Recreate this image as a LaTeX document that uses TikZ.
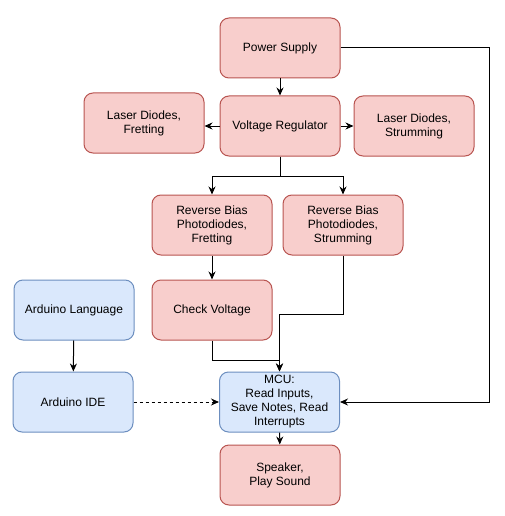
\documentclass[tikz,border=0pt]{standalone}
\usepackage{fontspec}
\setmainfont{Liberation Sans}
\usetikzlibrary{arrows.meta}
\definecolor{redfill}{HTML}{F8CECC}
\definecolor{redline}{HTML}{B85450}
\definecolor{bluefill}{HTML}{DAE8FC}
\definecolor{blueline}{HTML}{6C8EBF}
\tikzset{
  box/.style={rectangle, rounded corners=9pt, minimum width=120pt, minimum height=60pt,
    inner sep=0pt, align=center, font=\fontsize{12}{14}\selectfont, line width=1pt},
  redbox/.style={box, draw=redline, fill=redfill},
  bluebox/.style={box, draw=blueline, fill=bluefill},
  conn/.style={line width=1pt, -{Stealth[length=8pt,width=7pt]}},
}
\begin{document}
\begin{tikzpicture}[x=1pt,y=1pt]
\useasboundingbox (0,0) rectangle (505,-516);
\node[redbox] (ps) at (280,-48) {Power Supply};
\node[redbox] (lf) at (144,-123) {Laser Diodes,\\Fretting};
\node[redbox] (vr) at (280,-126) {Voltage Regulator};
\node[redbox] (ls) at (414,-126) {Laser Diodes,\\Strumming};
\node[redbox] (rbf) at (212,-225) {Reverse Bias\\Photodiodes,\\Fretting};
\node[redbox] (rbs) at (343,-225) {Reverse Bias\\Photodiodes,\\Strumming};
\node[bluebox] (al) at (74,-310) {Arduino Language};
\node[redbox] (cv) at (212,-310) {Check Voltage};
\node[bluebox] (ide) at (73,-402) {Arduino IDE};
\node[bluebox] (mcu) at (279.5,-402) {MCU:\\Read Inputs,\\Save Notes, Read\\Interrupts};
\node[redbox] (sp) at (280,-475) {Speaker,\\Play Sound};
\coordinate (pr) at (489,-48);

\draw[conn] (ps) -- (vr);
\draw[conn] (vr.west) -- (vr.west -| lf.east);
\draw[conn] (vr.east) -- (vr.east -| ls.west);
\draw[conn] (vr.south) -- ++(0,-20) -| (rbf.north);
\draw[conn] (vr.south) -- ++(0,-20) -| (rbs.north);
\draw[conn] (rbf) -- (cv);
\draw[conn] (cv.south) -- ++(0,-20) -| (mcu.north);
\draw[conn] (rbs.south) -- ++(0,-59) -| (mcu.north);
\draw[conn] (al) -- (ide);
\draw[conn, dashed] (ide) -- (mcu);
\draw[conn] (ps.east) -- (pr) |- (mcu.east);
\draw[conn] (mcu) -- (sp);
\end{tikzpicture}
\end{document}
